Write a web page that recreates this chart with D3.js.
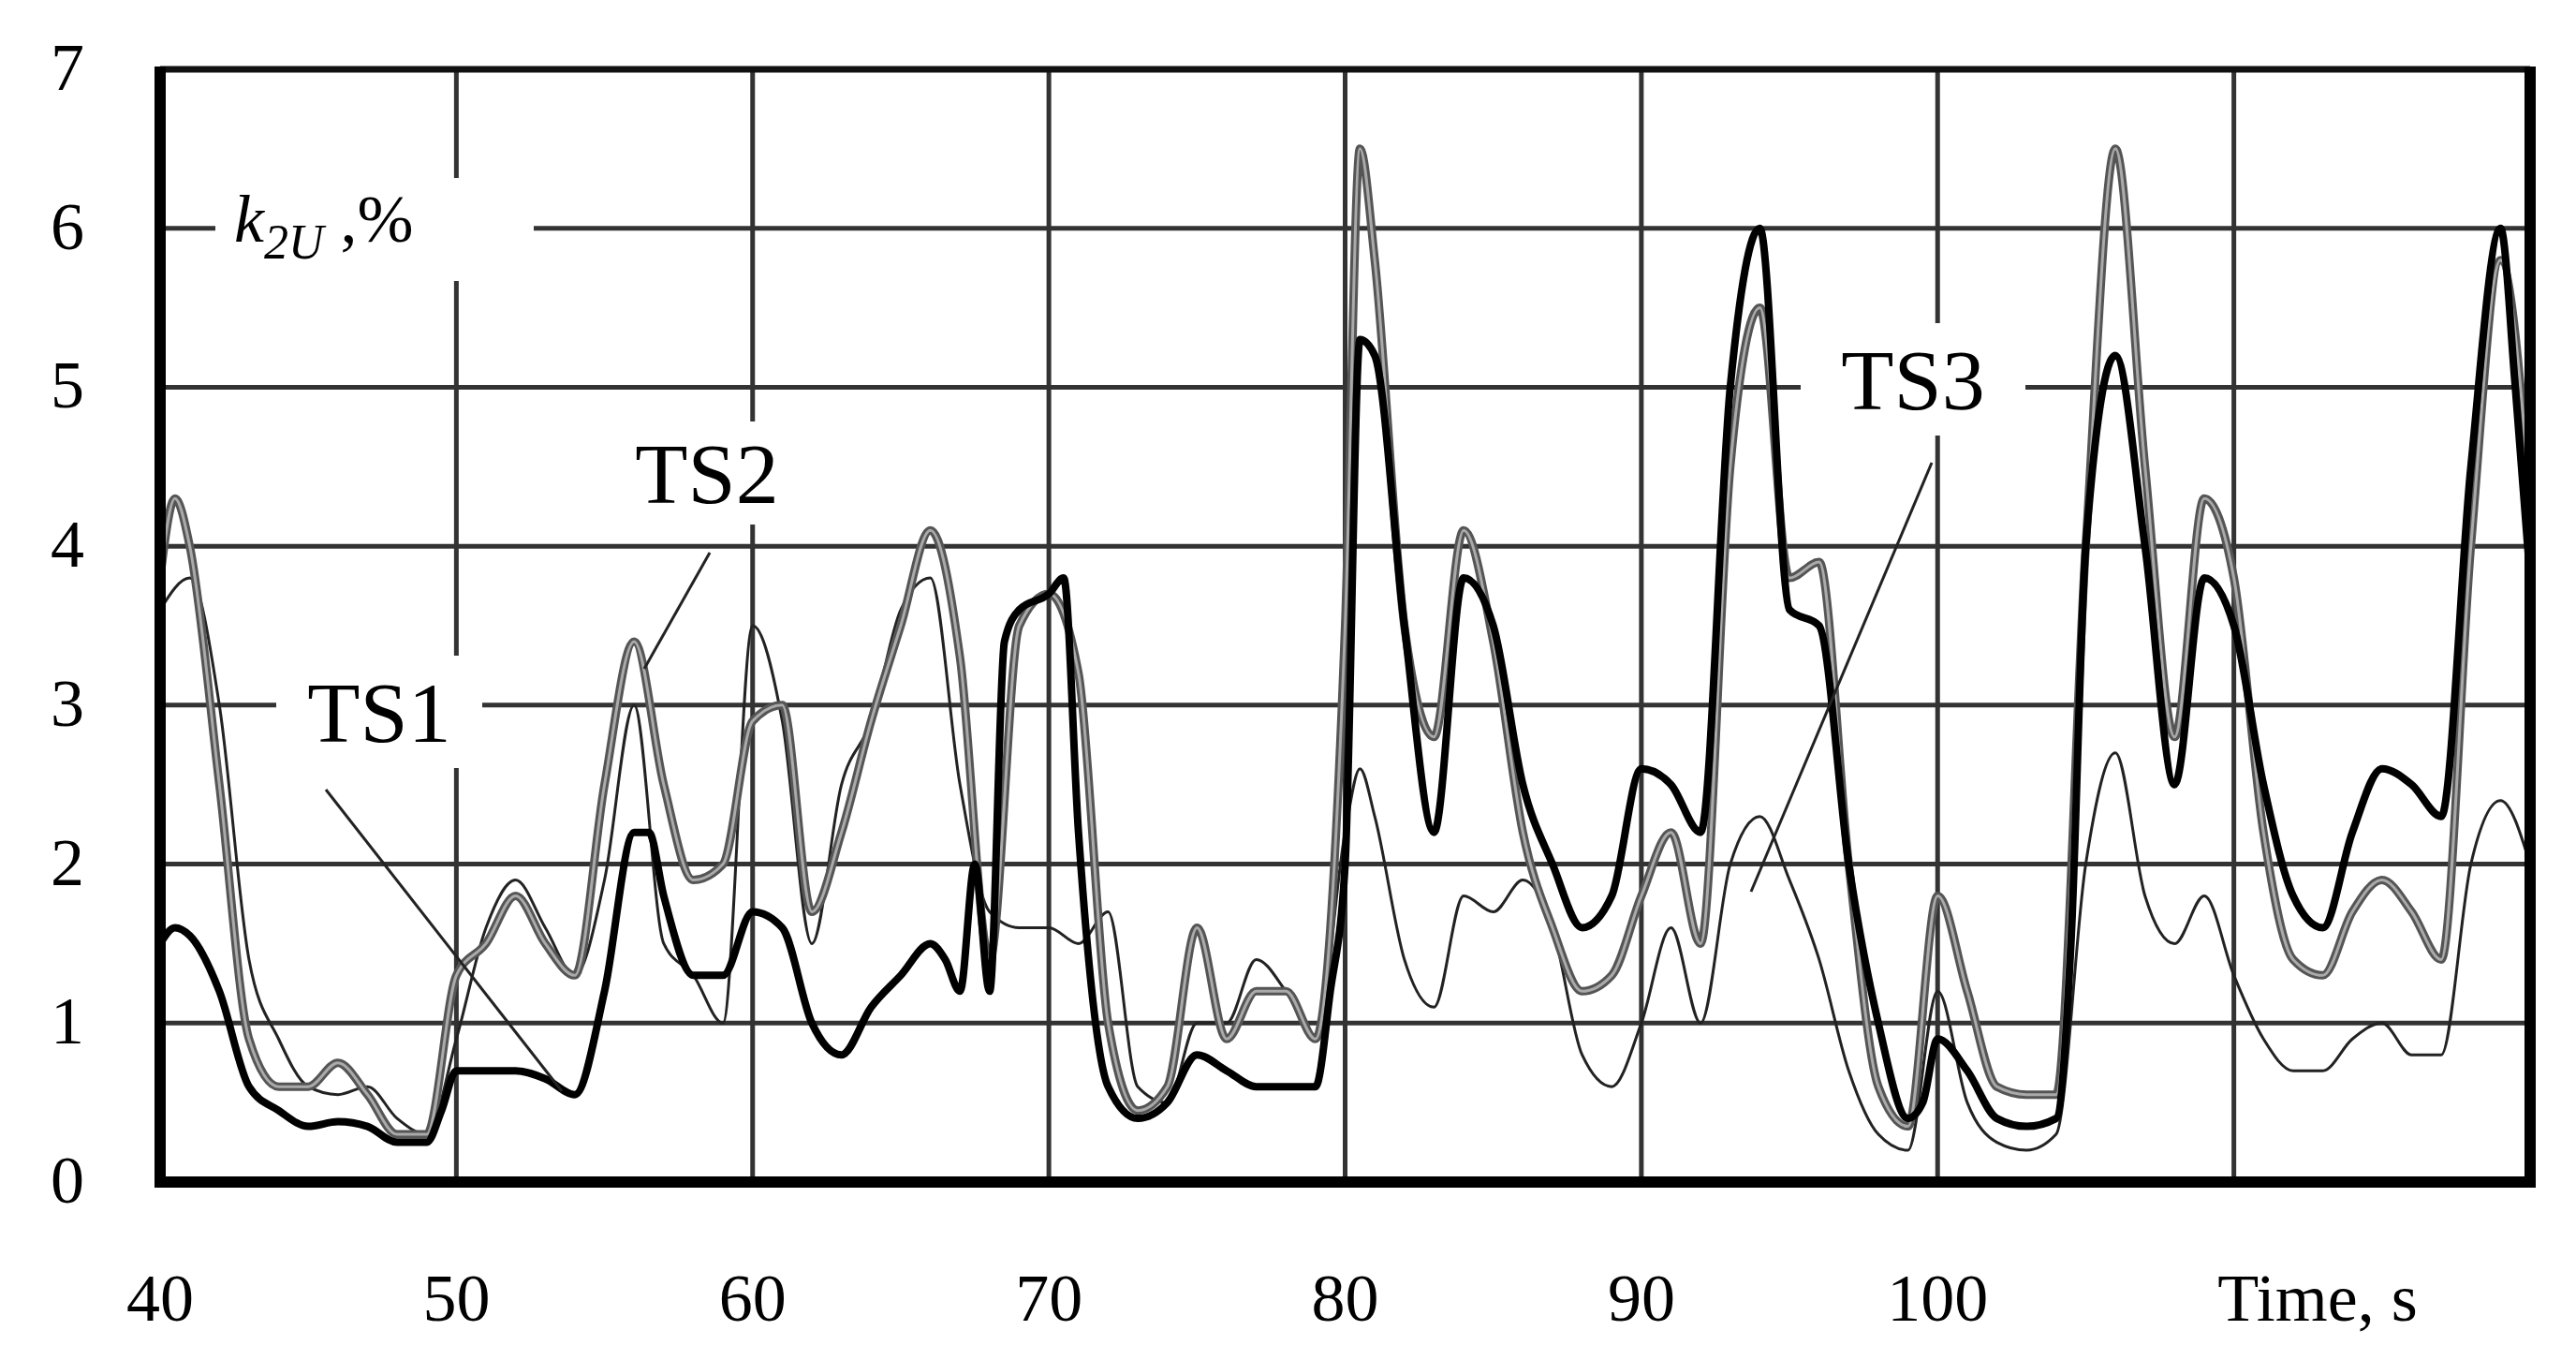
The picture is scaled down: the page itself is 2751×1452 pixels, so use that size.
<!DOCTYPE html><html><head><meta charset="utf-8"><script src="https://cdn.jsdelivr.net/npm/d3@7"></script>
<style>body{margin:0;background:#fff}</style></head><body><svg id="c" width="2751" height="1452"></svg>
<script>
const xTicks=[40,50,60,70,80,90,100];
const yTicks=[0,1,2,3,4,5,6,7];
const tA=[40,40.5,41,42,43,44,45,46,47,48,49,49.5,50,51,52,53,54,55,56,56.5,57,58,59,60,61,62,63,64,65,66,66.5,67,67.5,68,68.5,69,70,70.5,71,72,73,74,75,76,77,78,79,79.5,80,80.5,81,82,83,84,85,86,87,88,89,90,91,92,93,94,95,96,97,98,99,99.5,100,101,102,103,104,104.5,105,106,107,108,109,110,111,112,113,114,115,116,117,118,119,119.5,120];
const vA=[1.5,1.6,1.55,1.2,0.6,0.45,0.35,0.38,0.35,0.25,0.25,0.45,0.7,0.7,0.7,0.65,0.55,1.2,2.2,2.2,1.8,1.3,1.3,1.7,1.6,1.0,0.8,1.1,1.3,1.5,1.4,1.2,2.0,1.2,3.4,3.6,3.7,3.8,2.2,0.6,0.4,0.5,0.8,0.7,0.6,0.6,0.6,1.2,2.0,5.3,5.2,3.5,2.2,3.8,3.5,2.5,2.0,1.6,1.8,2.6,2.5,2.2,5.0,6.0,3.6,3.5,2.0,1.0,0.4,0.5,0.9,0.7,0.4,0.35,0.4,1.5,4.0,5.2,4.0,2.5,3.8,3.5,2.5,1.8,1.6,2.2,2.6,2.5,2.3,4.5,6.0,5.0,3.8];
const tB=[40,40.5,41,42,43,44,45,46,47,48,49,50,51,52,53,54,55,56,57,58,59,60,61,62,63,64,65,66,67,68,69,70,71,72,73,74,75,76,77,78,79,80,80.5,81,82,83,84,85,86,87,88,89,90,91,92,93,94,95,96,97,98,99,100,101,102,103,104,105,106,107,108,109,110,111,112,113,114,115,116,117,118,119,120];
const vB=[3.8,4.3,4.0,2.5,0.9,0.6,0.6,0.75,0.55,0.3,0.3,1.3,1.5,1.8,1.5,1.3,2.5,3.4,2.5,1.9,2.0,2.9,3.0,1.7,2.2,2.9,3.5,4.1,3.3,1.4,3.5,3.7,3.2,1.0,0.45,0.6,1.6,0.9,1.2,1.2,0.9,3.5,6.5,5.8,3.5,2.8,4.1,3.4,2.2,1.6,1.2,1.3,1.8,2.2,1.5,4.5,5.5,3.8,3.9,2.0,0.6,0.35,1.8,1.2,0.6,0.55,0.55,4.0,6.5,4.5,2.8,4.3,3.8,2.2,1.4,1.3,1.7,1.9,1.7,1.4,4.0,5.8,4.3];
const tC=[40,41,42,43,44,45,46,47,48,49,50,51,52,53,54,55,56,57,58,59,60,61,62,63,64,65,66,67,68,69,70,71,72,73,74,75,76,77,78,79,80,80.5,81,82,83,84,85,86,87,88,89,90,91,92,93,94,95,96,97,98,99,100,101,102,103,104,105,106,107,108,109,110,111,112,113,114,115,116,117,118,119,120];
const vC=[3.6,3.8,3.0,1.4,0.9,0.6,0.55,0.6,0.4,0.3,0.9,1.6,1.9,1.6,1.3,1.9,3.0,1.5,1.3,1.0,3.5,2.9,1.5,2.5,2.9,3.6,3.8,2.5,1.7,1.6,1.6,1.5,1.7,0.6,0.5,1.0,1.0,1.4,1.2,0.9,2.2,2.6,2.3,1.4,1.1,1.8,1.7,1.9,1.6,0.8,0.6,1.0,1.6,1.0,2.0,2.3,1.9,1.4,0.7,0.3,0.2,1.2,0.5,0.25,0.2,0.3,2.0,2.7,1.8,1.5,1.8,1.3,0.9,0.7,0.7,0.9,1.0,0.8,0.8,2.0,2.4,2.0];
const svg=d3.select('#c');
const L=171,R=2702,T=74,B=1262;
const x=d3.scaleLinear().domain([40,120]).range([L,R]);
const y=d3.scaleLinear().domain([0,7]).range([B,T]);
const font="'Liberation Serif',serif";
const g=svg.append('g');
[...xTicks,110].forEach(t=>g.append('line').attr('x1',x(t)).attr('x2',x(t)).attr('y1',T).attr('y2',B).attr('stroke','#333').attr('stroke-width',5));
yTicks.forEach(t=>g.append('line').attr('x1',L).attr('x2',R).attr('y1',y(t)).attr('y2',y(t)).attr('stroke','#333').attr('stroke-width',5));
const line=d3.line().x(d=>x(d[0])).y(d=>y(d[1])).curve(d3.curveMonotoneX);
const z=(t,v)=>t.map((d,i)=>[d,v[i]]);
svg.append('path').attr('d',line(z(tC,vC))).attr('fill','none').attr('stroke','#222').attr('stroke-width',3);
svg.append('path').attr('d',line(z(tB,vB))).attr('fill','none').attr('stroke','#555').attr('stroke-width',9);
svg.append('path').attr('d',line(z(tB,vB))).attr('fill','none').attr('stroke','#aaa').attr('stroke-width',3);
svg.append('path').attr('d',line(z(tA,vA))).attr('fill','none').attr('stroke','#000').attr('stroke-width',8);
// frame
svg.append('line').attr('x1',L).attr('x2',R).attr('y1',T).attr('y2',T).attr('stroke','#111').attr('stroke-width',7);
svg.append('line').attr('x1',L).attr('x2',R).attr('y1',B).attr('y2',B).attr('stroke','#000').attr('stroke-width',12);
svg.append('line').attr('x1',L).attr('x2',L).attr('y1',T-3).attr('y2',B+6).attr('stroke','#000').attr('stroke-width',12);
svg.append('line').attr('x1',R).attr('x2',R).attr('y1',T-3).attr('y2',B+6).attr('stroke','#000').attr('stroke-width',12);
// axes text
yTicks.forEach(t=>svg.append('text').attr('x',72).attr('y',y(t)+22).attr('text-anchor','middle').attr('font-family',font).attr('font-size',72).text(t));
xTicks.forEach(t=>svg.append('text').attr('x',x(t)).attr('y',1410).attr('text-anchor','middle').attr('font-family',font).attr('font-size',72).text(t));
svg.append('text').attr('x',2475).attr('y',1410).attr('text-anchor','middle').attr('font-family',font).attr('font-size',72).text('Time, s');
// annotations
function lab(cx,cy,w,h,txt,size){svg.append('rect').attr('x',cx-w/2).attr('y',cy-h/2).attr('width',w).attr('height',h).attr('fill','#fff');
 svg.append('text').attr('x',cx).attr('y',cy+size*0.35).attr('text-anchor','middle').attr('font-family',font).attr('font-size',size).text(txt);}
svg.append('line').attr('x1',348).attr('y1',843).attr('x2',600).attr('y2',1165).attr('stroke','#222').attr('stroke-width',3);
svg.append('line').attr('x1',758).attr('y1',590).attr('x2',688).attr('y2',714).attr('stroke','#222').attr('stroke-width',3);
svg.append('line').attr('x1',2063).attr('y1',494).attr('x2',1870).attr('y2',952).attr('stroke','#222').attr('stroke-width',3);
lab(405,760,220,120,'TS1',92);
lab(755,505,220,110,'TS2',92);
lab(2043,405,240,120,'TS3',92);
svg.append('rect').attr('x',230).attr('y',190).attr('width',340).attr('height',110).attr('fill','#fff');
const kt=svg.append('text').attr('x',250).attr('y',258).attr('font-family',font).attr('font-size',72).attr('font-style','italic');
kt.append('tspan').text('k');
kt.append('tspan').attr('font-size',52).attr('dy',18).text('2U');
kt.append('tspan').attr('dy',-18).attr('font-style','normal').text(' ,%');
</script></body></html>
